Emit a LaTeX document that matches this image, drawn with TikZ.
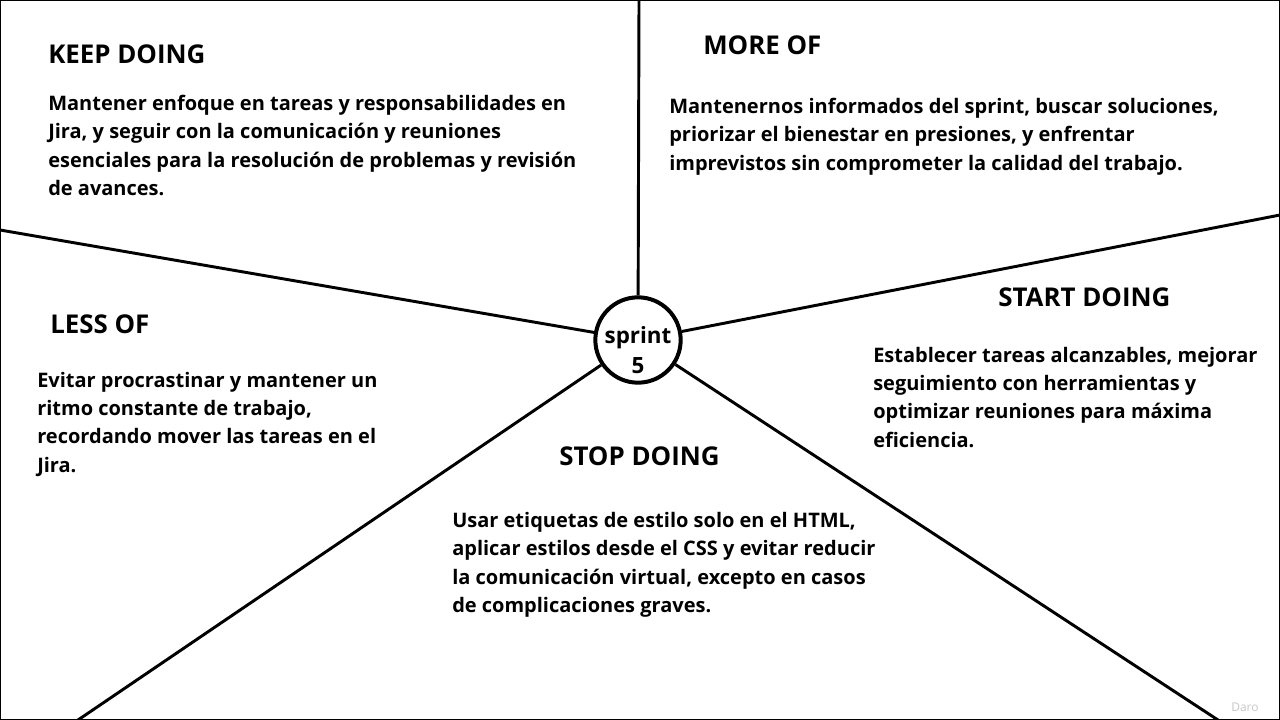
\documentclass[tikz,border=0pt]{standalone}
\usepackage{fontspec}
\setmainfont{Open Sans}
\begin{document}
\begin{tikzpicture}[x=0.75pt,y=-0.75pt]
            \tikzset{
              titulo/.style={anchor=base west,inner sep=0pt,font=\bfseries\fontsize{19.4}{22}\selectfont},
              texto/.style={anchor=north west,inner sep=0pt,align=left,font=\bfseries\fontsize{15}{21.2}\selectfont},
              raya/.style={line width=2.2pt}
            }
            \useasboundingbox (0,0) rectangle (1280,720);
            \draw [black,line width=1.5pt] (0,0) rectangle (1280,720);
            \node [circle,draw,line width=3pt,minimum size=64pt,inner sep=0pt] (sp) at (638,340) {};
            \node [align=center,inner sep=0pt,font=\bfseries\fontsize{16.8}{22.5}\selectfont] (sptxt) at (638,350) {sprint\\5};
            \coordinate (arriba) at (639,0);
            \coordinate (izq) at (0,230);
            \coordinate (der) at (1280,215);
            \coordinate (abizq) at (78,720);
            \coordinate (abder) at (1218,720);
            \draw [raya] (sp) -- (arriba);
            \draw [raya] (sp) -- (izq);
            \draw [raya] (sp) -- (der);
            \draw [raya] (sp) -- (abizq);
            \draw [raya] (sp) -- (abder);
            \node [titulo] (keep) at (48,64) {KEEP DOING};
            \node [texto] (keeptxt) at (48,95) {Mantener enfoque en tareas y responsabilidades en\\Jira, y seguir con la comunicación y reuniones\\esenciales para la resolución de problemas y revisión\\de avances.};
            \node [titulo] (more) at (703,55) {MORE OF};
            \node [texto] (moretxt) at (669,98) {Mantenernos informados del sprint, buscar soluciones,\\priorizar el bienestar en presiones, y enfrentar\\imprevistos sin comprometer la calidad del trabajo.};
            \node [titulo] (start) at (998,306) {START DOING};
            \node [texto] (starttxt) at (873,347) {Establecer tareas alcanzables, mejorar\\seguimiento con herramientas y\\optimizar reuniones para máxima\\eficiencia.};
            \node [titulo] (less) at (50,333) {LESS OF};
            \node [texto] (lesstxt) at (37,372) {Evitar procrastinar y mantener un\\ritmo constante de trabajo,\\recordando mover las tareas en el\\Jira.};
            \node [titulo] (stop) at (559,465) {STOP DOING};
            \node [texto] (stoptxt) at (452,512) {Usar etiquetas de estilo solo en el HTML,\\aplicar estilos desde el CSS y evitar reducir\\la comunicación virtual, excepto en casos\\de complicaciones graves.};
            \node [anchor=base west,inner sep=0pt,text=black!22,font=\fontsize{9}{10}\selectfont] (firma) at (1231,711) {Daro};
        \end{tikzpicture}
\end{document}
